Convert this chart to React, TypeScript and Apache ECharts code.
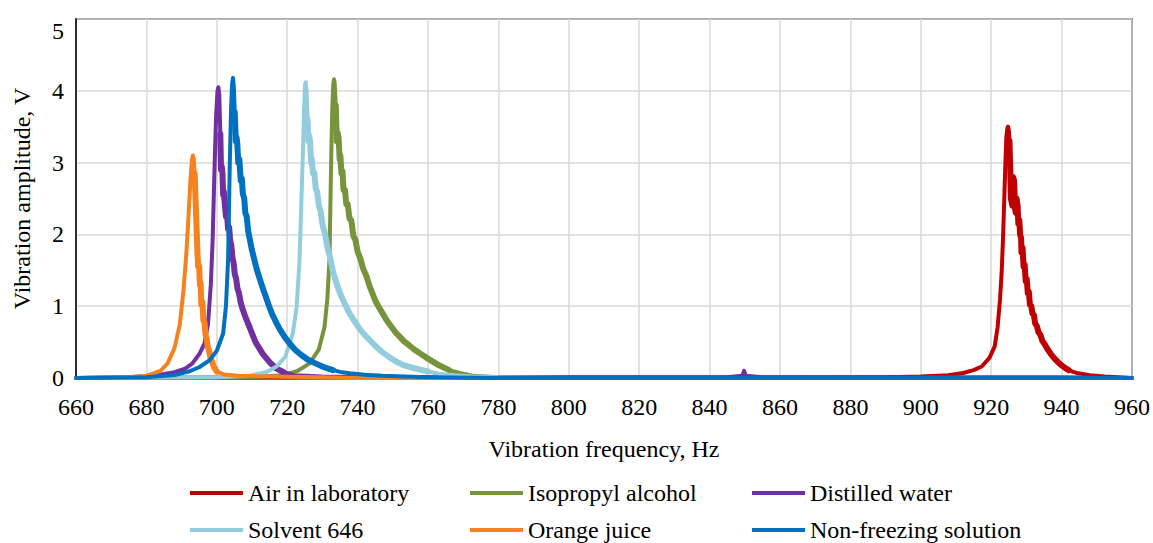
import React, { useEffect, useRef } from "react";
import * as echarts from "echarts";

const seriesNames = [
  "Air in laboratory",
  "Isopropyl alcohol",
  "Distilled water",
  "Solvent 646",
  "Orange juice",
  "Non-freezing solution",
];

const seriesColors = ["#C00000", "#77933C", "#7030A0", "#93CDDD", "#F5821F", "#0070C0"];

const xTicks = { min: 660, max: 960, interval: 20 };
const yTicks = { min: 0, max: 5, interval: 1 };

const airLab: number[][] = [
  [660, 0], [890, 0.01], [900, 0.02], [907.8, 0.04], [912, 0.07], [915, 0.11], [917.3, 0.16],
  [919.5, 0.28], [921, 0.44], [921.8, 0.7], [922.5, 1.09], [923, 1.5], [923.4, 2.0], [924, 2.94],
  [924.3, 3.35], [924.6, 3.48], [924.8, 3.5], [925, 3.45], [925.2, 3.3], [925.6, 2.5], [926, 2.4],
  [926.2, 2.8], [926.5, 2.75], [926.8, 2.35], [927, 2.3], [927.2, 2.5], [927.5, 2.4], [927.7, 2.15],
  [928, 2.2], [928.2, 2.0], [928.5, 1.95], [928.6, 1.75], [928.9, 1.82], [929.2, 1.55], [929.5, 1.58],
  [929.8, 1.35], [930.1, 1.38], [930.4, 1.18], [930.7, 1.2], [931, 1.02], [931.4, 1.0], [931.7, 0.9],
  [932.1, 0.88], [932.5, 0.76], [933, 0.72], [933.4, 0.64], [934, 0.6], [934.5, 0.52], [935.2, 0.47],
  [936, 0.4], [937, 0.33], [938, 0.27], [939, 0.22], [939.9, 0.18], [941, 0.14], [942, 0.11],
  [943.3, 0.085], [944.7, 0.065], [948, 0.04], [952.2, 0.02], [960, 0],
];

const isopropyl: number[][] = [
  [660, 0], [705, 0.01], [713, 0.02], [718.8, 0.04], [723, 0.1], [726.3, 0.2], [729, 0.4],
  [730.6, 0.71], [731.4, 1.1], [732, 1.64], [732.5, 3.04], [732.8, 3.75], [733.1, 4.1], [733.3, 4.16],
  [733.5, 4.1], [733.8, 3.8], [734.1, 3.3], [734.3, 3.42], [734.6, 3.35], [734.9, 3.05], [735.1, 3.1],
  [735.4, 2.85], [735.7, 2.88], [736, 2.62], [736.4, 2.62], [736.8, 2.42], [737.2, 2.42], [737.7, 2.22],
  [738.2, 2.2], [738.8, 1.98], [739.4, 1.92], [740, 1.76], [740.8, 1.66], [741.6, 1.52], [742.5, 1.42],
  [743.4, 1.28], [744.2, 1.18], [745, 1.08], [746, 0.99], [747.1, 0.9], [748.3, 0.8], [749.5, 0.72],
  [750.7, 0.64], [751.9, 0.58], [753.2, 0.51], [754.5, 0.46], [756, 0.4], [757.5, 0.35], [760, 0.27],
  [763, 0.18], [766, 0.11], [769, 0.07], [773, 0.03], [780, 0.01], [800, 0], [960, 0],
];

const distilled: number[][] = [
  [660, 0], [675, 0.01], [683, 0.04], [688, 0.08], [691, 0.13], [693, 0.2], [695, 0.33], [696.5, 0.48],
  [697.5, 0.75], [698.3, 1.3], [698.8, 1.9], [699.4, 3.0], [699.8, 3.65], [700.2, 4.0], [700.45, 4.05],
  [700.7, 3.95], [701, 3.4], [701.2, 2.9], [701.4, 2.95], [701.6, 2.85], [701.8, 2.55], [702, 2.6],
  [702.3, 2.4], [702.6, 2.25], [702.9, 2.28], [703.2, 2.08], [703.5, 2.1], [703.8, 1.92], [704.1, 1.85],
  [704.5, 1.66], [704.8, 1.6], [705.1, 1.45], [705.5, 1.38], [705.9, 1.24], [706.3, 1.18], [706.8, 1.05],
  [707.4, 0.95], [708.2, 0.84], [709.3, 0.71], [710, 0.62], [711, 0.5], [712, 0.42], [713, 0.34], [714, 0.28],
  [715, 0.22], [717, 0.13], [719, 0.08], [722, 0.04], [730, 0.02], [760, 0.01], [845, 0.01], [849.3, 0.03],
  [849.8, 0.1], [850.3, 0.03], [855, 0.01], [940, 0.01], [960, 0],
];

const solvent646: number[][] = [
  [660, 0], [700, 0.01], [709, 0.03], [714, 0.08], [717, 0.16], [719.5, 0.3], [721.6, 0.62],
  [722.7, 1.0], [723.5, 1.64], [724.4, 3.04], [724.8, 3.75], [725.05, 4.08], [725.25, 4.12], [725.5, 4.0],
  [725.8, 3.6], [726, 3.3], [726.2, 3.38], [726.5, 3.3], [726.8, 3.0], [727, 3.05], [727.3, 2.85],
  [727.7, 2.86], [728.1, 2.64], [728.5, 2.6], [729, 2.4], [729.5, 2.32], [730.1, 2.12], [730.7, 2.02],
  [731.5, 1.8], [732.2, 1.68], [733, 1.48], [734, 1.32], [735, 1.18], [736.3, 1.04], [737.7, 0.9],
  [739, 0.8], [740.5, 0.69], [742, 0.6], [743.4, 0.53], [745, 0.45], [747, 0.36], [749, 0.29],
  [750.9, 0.23], [753, 0.18], [755, 0.15], [757.5, 0.12], [760, 0.09], [763, 0.06], [767, 0.04], [772, 0.025],
  [780, 0.01], [800, 0], [960, 0],
];

const orangeJuice: number[][] = [
  [660, 0], [675, 0.01], [680, 0.03], [684, 0.1], [686, 0.2], [688, 0.42], [689.5, 0.75], [690.5, 1.2],
  [691.3, 1.7], [691.9, 2.2], [692.5, 2.75], [692.9, 3.02], [693.2, 3.1], [693.45, 3.05], [693.7, 2.85],
  [694.1, 2.3], [694.5, 1.75], [694.7, 1.55], [695, 1.56], [695.2, 1.3], [695.4, 1.32], [695.6, 1.02],
  [695.9, 1.06], [696.2, 0.8], [696.5, 0.78], [696.8, 0.6], [697.1, 0.56], [697.4, 0.44], [697.8, 0.38],
  [698.2, 0.28], [698.7, 0.22], [699.2, 0.15], [700, 0.09], [702, 0.05], [706, 0.03], [715, 0.02],
  [730, 0.01], [740, 0], [960, 0],
];

const nonFreezing: number[][] = [
  [660, 0], [680, 0.01], [688, 0.04], [692, 0.09], [695, 0.15], [698, 0.25], [700, 0.38], [701.8, 0.62],
  [702.6, 1.0], [703.2, 1.64], [703.7, 3.0], [704.05, 3.75], [704.35, 4.1], [704.6, 4.18], [704.85, 4.05],
  [705.1, 3.7], [705.4, 3.3], [705.6, 3.35], [705.8, 3.28], [706.1, 3.0], [706.4, 3.05], [706.8, 2.75],
  [707.1, 2.78], [707.4, 2.57], [707.8, 2.5], [708.1, 2.3], [708.5, 2.25], [708.9, 2.05], [709.3, 1.95],
  [709.9, 1.8], [710.5, 1.68], [711.3, 1.52], [712.2, 1.38], [713, 1.26], [714, 1.12], [715, 0.98],
  [715.9, 0.87], [717, 0.76], [718, 0.67], [719.3, 0.57], [720.7, 0.48], [722.3, 0.39], [724, 0.32],
  [726, 0.25], [728.2, 0.2], [730.5, 0.15], [733, 0.11], [735, 0.085], [737.7, 0.065], [742, 0.045],
  [747, 0.03], [760, 0.01], [780, 0], [960, 0],
];

const seriesData = [airLab, isopropyl, distilled, solvent646, orangeJuice, nonFreezing];

const legendPos = [
  { left: 190, top: 481 },
  { left: 470, top: 481 },
  { left: 752, top: 481 },
  { left: 190, top: 518 },
  { left: 470, top: 518 },
  { left: 752, top: 518 },
];

const FONT = "Liberation Serif";

// jagged (noisy) falling flank of each resonance: from just after the peak down to this level
const FLANK_END = 0.12;

function fallingFlank(d: number[][]): number[][] {
  let p = 0;
  d.forEach((pt, i) => {
    if (pt[1] > d[p][1]) p = i;
  });
  const out: number[][] = [];
  for (let i = p + 2; i < d.length; i++) {
    out.push(d[i]);
    if (d[i][1] < FLANK_END) break;
  }
  return out;
}

export default function App() {
  const ref = useRef<HTMLDivElement>(null);
  useEffect(() => {
    if (!ref.current) return;
    const chart = echarts.init(ref.current, null, { renderer: "svg" });
    const series: any[] = [];
    seriesNames.forEach((n, i) => {
      series.push({
        name: n,
        type: "line",
        data: seriesData[i],
        showSymbol: false,
        symbol: "none",
        smooth: false,
        clip: false,
        lineStyle: { color: seriesColors[i], width: 4, join: "round", cap: "round" },
        itemStyle: { color: seriesColors[i] },
      });
      series.push({
        name: n + " flank",
        type: "line",
        data: fallingFlank(seriesData[i]),
        showSymbol: false,
        symbol: "none",
        smooth: false,
        clip: false,
        silent: true,
        lineStyle: { color: seriesColors[i], width: 6, join: "round", cap: "round" },
        itemStyle: { color: seriesColors[i] },
      });
    });
    chart.setOption({
      animation: false,
      backgroundColor: "#fff",
      grid: {
        left: 76,
        right: 19,
        top: 19,
        bottom: 165,
        show: true,
        borderColor: "#000",
        borderWidth: 1.5,
        backgroundColor: "transparent",
      },
      legend: seriesNames.map((n, i) => ({
        data: [n],
        left: legendPos[i].left,
        top: legendPos[i].top,
        padding: 0,
        icon: "rect",
        itemWidth: 53,
        itemHeight: 4,
        itemGap: 0,
        selectedMode: false,
        textStyle: { fontFamily: FONT, fontSize: 24, color: "#000" },
      })),
      xAxis: {
        type: "value",
        min: xTicks.min,
        max: xTicks.max,
        interval: xTicks.interval,
        name: "Vibration frequency, Hz",
        nameLocation: "middle",
        nameGap: 59,
        nameTextStyle: { fontFamily: FONT, fontSize: 24, color: "#000" },
        axisLine: { show: true, lineStyle: { color: "#000", width: 1.5 } },
        axisTick: { show: false },
        axisLabel: { fontFamily: FONT, fontSize: 24, color: "#000", margin: 17 },
        splitLine: { show: true, lineStyle: { color: "#D9D9D9", width: 1.5 } },
      },
      yAxis: {
        type: "value",
        min: yTicks.min,
        max: yTicks.max,
        interval: yTicks.interval,
        name: "Vibration amplitude, V",
        nameLocation: "middle",
        nameGap: 42,
        nameTextStyle: { fontFamily: FONT, fontSize: 24, color: "#000" },
        axisLine: { show: true, lineStyle: { color: "#000", width: 1.5 } },
        axisTick: { show: false },
        axisLabel: {
          fontFamily: FONT,
          fontSize: 24,
          color: "#000",
          margin: 12,
          verticalAlignMaxLabel: "top",
        },
        splitLine: { show: true, lineStyle: { color: "#D9D9D9", width: 1.5 } },
      },
      series,
    });
    return () => chart.dispose();
  }, []);
  return (
    <div
      ref={ref}
      style={{ position: "fixed", left: 0, top: 0, width: 1153, height: 543, background: "#fff" }}
    />
  );
}
